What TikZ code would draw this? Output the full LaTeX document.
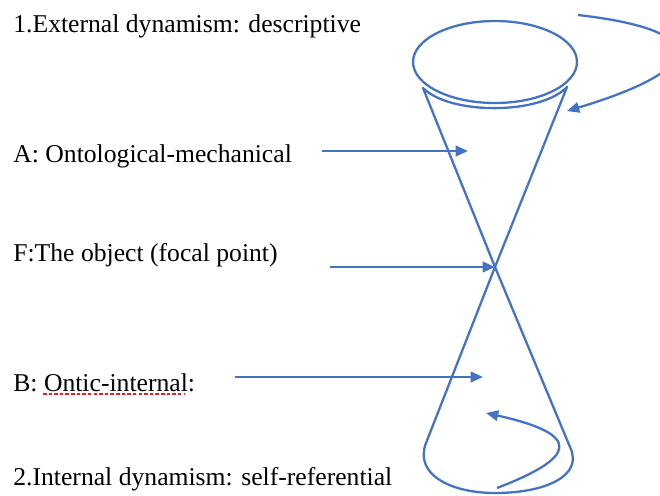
\documentclass[tikz,border=0pt]{standalone}
\usepackage{fontspec}
\setmainfont{Liberation Serif}
\usepackage{tikz}
\usetikzlibrary{arrows.meta}
\definecolor{coneBlue}{RGB}{68, 114, 196}
\definecolor{spellRed}{RGB}{230, 30, 30}

\begin{document}
\begin{tikzpicture}[x=0.02cm, y=-0.02cm,
    conepen/.style={draw=coneBlue, line width=1.3pt, line join=round},
    pointer/.style={coneBlue, line width=1.3pt, -{Triangle[length=7pt, width=6pt]}},
    label/.style={anchor=base west, inner sep=0pt,
                  font=\fontsize{14.6}{17}\selectfont}]
  \useasboundingbox (0,0) rectangle (660,495);

  % Text on the left
  \foreach \nm/\y/\lab in {extDyn/32/{1.External dynamism: descriptive},
                           ontoMech/162/{A: Ontological-mechanical},
                           object/261/{F:The object (focal point)},
                           onticInt/391/{B: Ontic-internal:},
                           intDyn/485/{2.Internal dynamism: self-referential}} {
    \node[label] (\nm) at (13, \y) {\lab};
  }
  % spelling mark under the word
  \draw[spellRed, line width=1.4pt, dash pattern=on 2pt off 1.2pt]
    (43,394) -- (185,394);

  % Points on the double cone
  \coordinate (focal)   at (495,267);
  \coordinate (rimL)    at (423,88);
  \coordinate (rimR)    at (567,87);
  \coordinate (baseL)   at (426,443);
  \coordinate (baseR)   at (570,447);

  % Upper cone with its rim
  \draw[conepen] (495,62) ellipse [x radius=82, y radius=41];
  \draw[conepen] (focal) -- (rimL)
    .. controls (450,115) and (540,115) .. (rimR) -- cycle;

  % Lower cone
  \draw[conepen] (focal) -- (baseL)
    .. controls (414,474) and (450,493) .. (495,493)
    .. controls (545,493) and (584,476) .. (baseR) -- cycle;

  % Horizontal pointers
  \coordinate (ontoStart) at (322,151);
  \coordinate (ontoTip)   at (468,151);
  \coordinate (objStart)  at (330,267);
  \coordinate (onticStart) at (235,377);
  \coordinate (onticTip)  at (483,377);
  \draw[pointer] (ontoStart) -- (ontoTip);
  \draw[pointer] (objStart) -- (focal);
  \draw[pointer] (onticStart) -- (onticTip);

  % Loops
  \coordinate (outerStart) at (578,15);
  \coordinate (outerTip)   at (567,111);
  \coordinate (innerStart) at (497,488);
  \coordinate (innerTip)   at (486,413);
  \draw[pointer] (outerStart) .. controls (710,30) and (710,68) .. (outerTip);
  \draw[pointer] (innerStart) .. controls (575,458) and (585,435) .. (innerTip);
\end{tikzpicture}
\end{document}
